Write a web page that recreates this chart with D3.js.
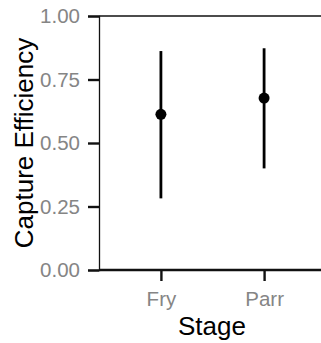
<!DOCTYPE html>
<html><head><meta charset="utf-8">
<script src="https://cdn.jsdelivr.net/npm/d3@7"></script>
<style>body{margin:0;background:#fff}svg{display:block}text{font-family:"Liberation Sans",Arial,sans-serif}</style>
</head><body>
<script>
const stages = ["Fry", "Parr"];
const estimates = [0.613, 0.677];
const lower = [0.282, 0.400];
const upper = [0.862, 0.873];
const yTicks = [0, 0.25, 0.5, 0.75, 1];

const W = 321, H = 343;
const svg = d3.select("body").append("svg").attr("width", W).attr("height", H);
const x = d3.scalePoint().domain(stages).range([99, 326]).padding(0.6);
const y = d3.scaleLinear().domain([0, 1]).range([270, 16]);

// top line
svg.append("line").attr("x1", 99).attr("x2", W).attr("y1", y(1)).attr("y2", y(1))
  .attr("stroke", "#111").attr("stroke-width", 1.3);

// y axis
const ya = svg.append("g").attr("transform", "translate(99,0)")
  .call(d3.axisLeft(y).tickValues(yTicks).tickFormat(d3.format(".2f")).tickSize(11).tickPadding(8));
ya.select(".domain").attr("stroke", "#111").attr("stroke-width", 1.3);
ya.selectAll(".tick line").attr("stroke", "#111").attr("stroke-width", 2.4);
ya.selectAll(".tick text").attr("fill", "#858585").attr("font-size", 20.5).attr("font-family", "Liberation Sans, Arial, sans-serif");

// x axis
const xa = svg.append("g").attr("transform", "translate(0,270)")
  .call(d3.axisBottom(x).tickSize(11).tickPadding(10));
xa.select(".domain").attr("d", `M99,0H${W}`).attr("stroke", "#111").attr("stroke-width", 2.4);
xa.selectAll(".tick line").attr("stroke", "#111").attr("stroke-width", 2.4);
xa.selectAll(".tick text").attr("fill", "#858585").attr("font-size", 20.5).attr("font-family", "Liberation Sans, Arial, sans-serif");

// error bars
svg.selectAll(".err").data(stages).enter().append("line")
  .attr("x1", d => x(d)).attr("x2", d => x(d))
  .attr("y1", (d, i) => y(lower[i])).attr("y2", (d, i) => y(upper[i]))
  .attr("stroke", "#000").attr("stroke-width", 2.8);
svg.selectAll(".pt").data(stages).enter().append("circle")
  .attr("cx", d => x(d)).attr("cy", (d, i) => y(estimates[i])).attr("r", 5.5).attr("fill", "#000");

// titles
svg.append("text").attr("x", 212).attr("y", 335).attr("text-anchor", "middle")
  .attr("font-size", 26).attr("fill", "#000").text("Stage");
svg.append("text").attr("transform", `translate(33,${(16+270)/2}) rotate(-90)`).attr("text-anchor", "middle")
  .attr("font-size", 26).attr("fill", "#000").text("Capture Efficiency");
</script>
</body></html>
